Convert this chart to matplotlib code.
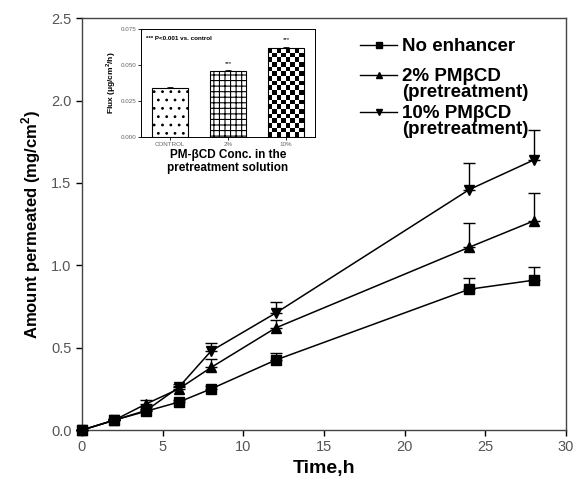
import numpy as np
import matplotlib
matplotlib.use("Agg")
import matplotlib.pyplot as plt
from matplotlib.lines import Line2D

plt.rcParams['font.family'] = ['Liberation Sans', 'DejaVu Sans']
plt.rcParams['hatch.linewidth'] = 0.8

time_h = [0, 2, 4, 6, 8, 12, 24, 28]
no_enh = [0.0, 0.06, 0.115, 0.17, 0.25, 0.425, 0.855, 0.91]
no_enh_err = [0.0, 0.01, 0.01, 0.01, 0.015, 0.04, 0.07, 0.08]
pm2 = [0.0, 0.06, 0.16, 0.25, 0.38, 0.62, 1.11, 1.27]
pm2_err = [0.0, 0.01, 0.02, 0.02, 0.05, 0.05, 0.15, 0.17]
pm10 = [0.0, 0.06, 0.12, 0.26, 0.48, 0.71, 1.46, 1.64]
pm10_err = [0.0, 0.01, 0.02, 0.02, 0.05, 0.07, 0.16, 0.18]
labels = ["No enhancer", "2% PM\u03b2CD\n(pretreatment)", "10% PM\u03b2CD\n(pretreatment)"]
markers = ['s', '^', 'v']

inset_cats = ["CONTROL", "2%", "10%"]
inset_flux = [0.034, 0.0455, 0.0618]
inset_err = [0.0006, 0.0007, 0.0008]

fig = plt.figure(figsize=(5.73, 4.8), dpi=100)
ax = fig.add_axes([0.143, 0.104, 0.845, 0.858])

for y, e, m in zip([no_enh, pm2, pm10], [no_enh_err, pm2_err, pm10_err], markers):
    lower = np.zeros(len(e))
    ax.errorbar(time_h, y, yerr=[lower, e], fmt='-', marker=m, color='black', ms=6.5,
                lw=1.1, elinewidth=1.0, capsize=4, capthick=1.0, clip_on=False, zorder=3)

ax.set_xlim(0, 30)
ax.set_ylim(0, 2.5)
ax.set_xticks([0, 5, 10, 15, 20, 25, 30])
ax.set_yticks([0.0, 0.5, 1.0, 1.5, 2.0, 2.5])
ax.set_yticklabels(["0.0", "0.5", "1.0", "1.5", "2.0", "2.5"])
ax.tick_params(axis='both', labelsize=10.5, labelcolor='#555555', length=4, width=1, direction='out')
for s in ax.spines.values():
    s.set_linewidth(1.0)
    s.set_color('#444444')
ax.set_xlabel("Time,h", fontsize=14, fontweight='bold', labelpad=4)
ax.set_ylabel("Amount permeated (mg/cm$^\\mathregular{2}$)", fontsize=12, fontweight='bold', labelpad=6)

# legend (handles aligned with first text line, as in the reference)
leg_y = [0.934, 0.862, 0.772]
for lab, m, yy in zip(labels, markers, leg_y):
    ax.add_line(Line2D([0.575, 0.651], [yy, yy], transform=ax.transAxes, color='black', lw=1.0))
    ax.add_line(Line2D([0.613], [yy], transform=ax.transAxes, color='black', marker=m, ms=4.5, lw=0))
    ax.text(0.661, yy + 0.017, lab, transform=ax.transAxes, fontsize=13.5, fontweight='bold',
            va='top', ha='left', linespacing=0.92)

# inset
ins = fig.add_axes([0.246, 0.715, 0.304, 0.225])
xpos = np.arange(len(inset_cats))
bars = ins.bar(xpos, inset_flux, width=0.62, color='white', edgecolor='black', linewidth=0.8,
               yerr=[np.zeros(3), inset_err], capsize=2, error_kw={'elinewidth': 0.6, 'capthick': 0.6})
bars[0].set_hatch('..')
bars[1].set_hatch('+++')
cb = np.indices((19, 8)).sum(axis=0) % 2
b = bars[2]
im = ins.imshow(cb, cmap='gray', extent=[b.get_x(), b.get_x() + b.get_width(), 0, b.get_height()],
                aspect='auto', interpolation='nearest', zorder=2)
im.set_clip_path(b)
b.set_zorder(3)
b.set_facecolor('none')

ins.set_xlim(-0.5, 2.5)
ins.set_ylim(0, 0.075)
ins.set_yticks([0.0, 0.025, 0.05, 0.075])
ins.set_yticklabels(["0.000", "0.025", "0.050", "0.075"])
ins.set_xticks(xpos)
ins.set_xticklabels(inset_cats)
ins.tick_params(axis='both', labelsize=4.5, labelcolor='#666666', length=2, width=0.6, pad=1.5)
ins.set_ylabel("Flux (\u03bcg/cm$^\\mathregular{2}$/h)", fontsize=6, fontweight='bold', labelpad=2)
ins.set_xlabel("PM-\u03b2CD Conc. in the\npretreatment solution", fontsize=8.5, fontweight='bold',
               labelpad=2, linespacing=1.05)
for s in ins.spines.values():
    s.set_linewidth(0.7)
ins.text(0.03, 0.93, "*** P<0.001 vs. control", transform=ins.transAxes, fontsize=4.5,
         fontweight='bold', va='top', ha='left')
for i in [1, 2]:
    ins.text(xpos[i], inset_flux[i] + inset_err[i] + 0.003, "***", fontsize=4.5, ha='center', va='bottom')

fig.savefig("out.png", dpi=100)
